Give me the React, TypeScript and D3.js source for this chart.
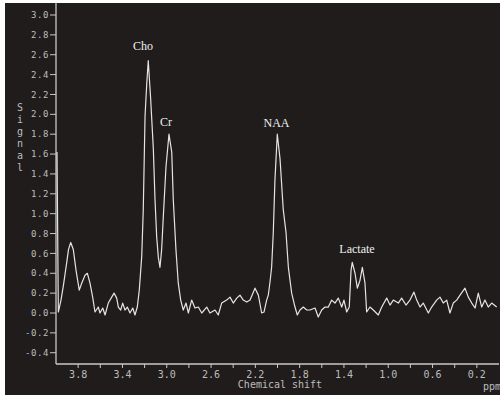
import React from "react";
import * as d3 from "d3";

// Chemical shift (ppm) and signal values
const ppm: number[] = [
  3.991, 3.979, 3.955, 3.934, 3.903, 3.887, 3.867, 3.844, 3.819, 3.790,
  3.768, 3.738, 3.717, 3.693, 3.669, 3.648, 3.618, 3.603, 3.578, 3.557,
  3.528, 3.497, 3.476, 3.452, 3.437, 3.416, 3.398, 3.377, 3.356, 3.332,
  3.307, 3.287, 3.266, 3.248, 3.226, 3.212, 3.196, 3.181, 3.167, 3.145,
  3.121, 3.106, 3.091, 3.076, 3.061, 3.046, 3.031, 3.007, 2.980, 2.955,
  2.941, 2.917, 2.896, 2.874, 2.851, 2.826, 2.805, 2.775, 2.745, 2.715,
  2.684, 2.639, 2.610, 2.564, 2.535, 2.504, 2.459, 2.429, 2.399, 2.368,
  2.339, 2.309, 2.278, 2.248, 2.203, 2.173, 2.143, 2.122, 2.098, 2.083,
  2.068, 2.053, 2.038, 2.023, 2.002, 1.977, 1.948, 1.923, 1.902, 1.872,
  1.842, 1.821, 1.797, 1.767, 1.736, 1.707, 1.661, 1.632, 1.601, 1.571,
  1.541, 1.511, 1.481, 1.451, 1.420, 1.400, 1.375, 1.352, 1.336, 1.325,
  1.300, 1.279, 1.255, 1.234, 1.210, 1.195, 1.165, 1.135, 1.090, 1.059,
  1.014, 0.984, 0.954, 0.909, 0.879, 0.840, 0.804, 0.768, 0.743, 0.713,
  0.684, 0.638, 0.608, 0.563, 0.533, 0.503, 0.472, 0.443, 0.413, 0.382,
  0.352, 0.307, 0.277, 0.246, 0.216, 0.187, 0.156, 0.127, 0.097, 0.066,
  0.021,
];

const signal: number[] = [
  1.62, 0.01, 0.13, 0.27, 0.51, 0.64, 0.71, 0.64, 0.43, 0.23,
  0.30, 0.38, 0.40, 0.30, 0.16, 0.01, 0.06, 0.00, 0.05, -0.02,
  0.10, 0.16, 0.20, 0.15, 0.06, 0.03, 0.10, 0.03, 0.06, 0.00,
  0.05, -0.02, 0.06, 0.23, 0.57, 1.04, 1.98, 2.30, 2.54, 2.15,
  1.65, 1.14, 0.77, 0.56, 0.46, 0.64, 0.97, 1.47, 1.80, 1.62,
  1.14, 0.64, 0.30, 0.13, 0.03, 0.10, 0.00, 0.13, 0.05, 0.06,
  0.00, 0.06, 0.00, 0.03, -0.02, 0.10, 0.13, 0.16, 0.10, 0.15,
  0.18, 0.13, 0.11, 0.13, 0.25, 0.18, 0.00, 0.01, 0.13, 0.18,
  0.31, 0.46, 0.81, 1.34, 1.80, 1.55, 1.04, 0.81, 0.46, 0.20,
  0.06, -0.02, 0.03, 0.06, 0.03, 0.03, 0.05, -0.04, 0.03, 0.06,
  0.06, 0.13, 0.10, 0.15, 0.06, 0.13, 0.01, 0.06, 0.43, 0.51,
  0.40, 0.25, 0.33, 0.46, 0.30, 0.01, 0.06, 0.03, -0.02, 0.06,
  0.15, 0.08, 0.13, 0.10, 0.15, 0.08, 0.13, 0.21, 0.13, 0.06,
  0.10, 0.00, 0.06, 0.13, 0.16, 0.10, 0.13, 0.00, 0.10, 0.13,
  0.18, 0.25, 0.16, 0.10, 0.05, 0.20, 0.06, 0.13, 0.06, 0.10,
  0.06,
];

const yTicks: number[] = [-0.4, -0.2, 0.0, 0.2, 0.4, 0.6, 0.8, 1.0, 1.2, 1.4, 1.6, 1.8, 2.0, 2.2, 2.4, 2.6, 2.8, 3.0];
const xMinorTicks: number[] = [3.8, 3.6, 3.4, 3.2, 3.0, 2.8, 2.6, 2.4, 2.2, 2.0, 1.8, 1.6, 1.4, 1.2, 1.0, 0.8, 0.6, 0.4, 0.2];
const xLabelTicks: number[] = [3.8, 3.4, 3.0, 2.6, 2.2, 1.8, 1.4, 1.0, 0.6, 0.2];

const peakNames: string[] = ["Cho", "Cr", "NAA", "Lactate"];
const peakPpm: number[] = [3.214, 3.007, 2.009, 1.282];
const peakLabelSignal: number[] = [2.65, 1.88, 1.87, 0.6];

const yLabel = "Signal";
const xLabel = "Chemical shift";
const unitLabel = "ppm";

export default function App() {
  const W = 500;
  const H = 398;
  const x = d3.scaleLinear().domain([4.0, 0.0]).range([56, 499]);
  const y = d3.scaleLinear().domain([0, 3.0]).range([313, 15]);
  const axisY = 364;
  const bg = "#201c1c";
  const axisColor = "#c8c8c8";
  const textColor = "#bdbdbd";
  const mono = "'DejaVu Sans Mono', 'Liberation Mono', monospace";

  const pts: [number, number][] = ppm.map((p, i) => [p, signal[i]]);
  const line = d3
    .line<[number, number]>()
    .x((d) => x(d[0]))
    .y((d) => y(d[1]));

  return (
    <svg
      width={W}
      height={H}
      style={{ position: "absolute", left: 0, top: 0, background: "#ffffff" }}
    >
      <rect x={5} y={3} width={495} height={392} fill={bg} />

      {/* y axis */}
      <line x1={56} x2={56} y1={3} y2={axisY} stroke={axisColor} strokeWidth={1.3} />
      {yTicks.map((t) => (
        <g key={"yt" + t}>
          <line x1={50} x2={56} y1={y(t)} y2={y(t)} stroke={axisColor} strokeWidth={1} />
          <text
            x={49}
            y={y(t)}
            dy="0.35em"
            textAnchor="end"
            fontFamily={mono}
            fontSize={9}
            letterSpacing={0.6}
            fill={textColor}
          >
            {t.toFixed(1)}
          </text>
        </g>
      ))}

      {/* x axis */}
      <line x1={56} x2={499} y1={axisY} y2={axisY} stroke={axisColor} strokeWidth={1.3} />
      {xMinorTicks.map((t) => (
        <line
          key={"xt" + t}
          x1={x(t)}
          x2={x(t)}
          y1={axisY}
          y2={axisY + 4}
          stroke={axisColor}
          strokeWidth={1}
        />
      ))}
      {xLabelTicks.map((t) => (
        <text
          key={"xl" + t}
          x={x(t)}
          y={378}
          textAnchor="middle"
          fontFamily={mono}
          fontSize={10}
          fill={textColor}
        >
          {t.toFixed(1)}
        </text>
      ))}

      {/* axis titles */}
      {yLabel.split("").map((ch, i) => (
        <text
          key={"yl" + i}
          x={20}
          y={107 + i * 12}
          dy="0.35em"
          textAnchor="middle"
          fontFamily={mono}
          fontSize={10}
          fill={textColor}
        >
          {ch}
        </text>
      ))}
      <text x={280} y={388} textAnchor="middle" fontFamily={mono} fontSize={10} fill={textColor}>
        {xLabel}
      </text>
      <text x={483} y={390} fontFamily={mono} fontSize={10} fill={textColor}>
        {unitLabel}
      </text>

      {/* spectrum */}
      <path d={line(pts) || ""} fill="none" stroke="#e4e4e4" strokeWidth={1.2} strokeLinejoin="round" />

      {/* peak labels */}
      {peakNames.map((n, i) => (
        <text
          key={n}
          x={x(peakPpm[i])}
          y={y(peakLabelSignal[i])}
          textAnchor="middle"
          fontFamily="'Liberation Serif', 'DejaVu Serif', serif"
          fontSize={12}
          fill="#f0f0f0"
        >
          {n}
        </text>
      ))}
    </svg>
  );
}
